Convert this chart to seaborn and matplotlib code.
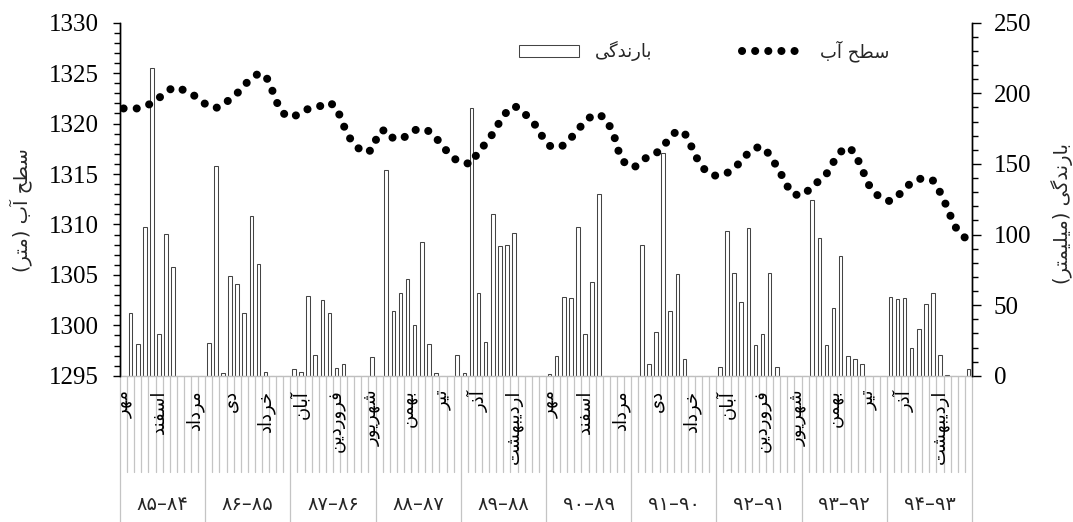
import re
import matplotlib
matplotlib.use("Agg")
import matplotlib.pyplot as plt
import matplotlib.transforms as mtransforms
from matplotlib.ticker import MultipleLocator, FixedLocator
import pandas as pd
import seaborn as sns

# ---------------------------------------------------------------- data
months = ["مهر", "آبان", "آذر", "دی", "بهمن", "اسفند",
          "فروردین", "اردیبهشت", "خرداد", "تیر", "مرداد", "شهریور"]

year_labels = ["۸۴–۸۵", "۸۵–۸۶", "۸۶–۸۷", "۸۷–۸۸", "۸۸–۸۹",
               "۸۹–۹۰", "۹۰–۹۱", "۹۱–۹۲", "۹۲–۹۳", "۹۳–۹۴"]

# monthly rainfall (mm), water years 84-85 .. 93-94, Mehr -> Shahrivar
rainfall = [
    0, 44.2, 22.3, 105.6, 217.7, 29.6, 100.6, 77.0, 0, 0, 0, 0,
    23.2, 148.8, 1.8, 70.9, 64.8, 44.2, 112.9, 79.2, 2.9, 0, 0, 0,
    4.8, 2.9, 56.3, 14.7, 53.7, 44.7, 5.3, 8.1, 0, 0, 0, 13.5,
    0, 145.7, 46.1, 58.4, 68.8, 36.0, 94.7, 22.5, 2.2, 0, 0, 14.9,
    2.2, 189.8, 58.4, 23.7, 114.3, 92.1, 92.6, 100.9, 0, 0, 0, 0,
    1.0, 13.8, 55.8, 54.9, 105.1, 29.8, 66.4, 128.7, 0, 0, 0, 0,
    0, 92.6, 8.1, 31.0, 158.0, 45.9, 71.9, 11.9, 0, 0, 0, 0,
    6.0, 102.5, 72.6, 52.5, 104.4, 21.6, 29.4, 72.6, 6.0, 0, 0, 0,
    0, 124.5, 97.8, 21.8, 48.2, 84.8, 14.2, 11.9, 8.1, 0, 0, 0,
    56.0, 54.4, 54.9, 19.9, 33.3, 50.8, 58.4, 14.5, 0.5, 0, 0, 5.0,
]

# monthly water level (m)
water_level = [
    1321.5, 1321.5, 1321.5, 1321.75, 1322.0, 1322.55, 1323.1, 1323.6, 1323.45, 1323.15, 1322.75, 1322.2,
    1321.7, 1321.55, 1321.8, 1322.45, 1323.0, 1323.8, 1324.5, 1324.95, 1324.8, 1323.2, 1321.4, 1320.7,
    1320.7, 1321.1, 1321.45, 1321.6, 1321.8, 1322.1, 1321.6, 1319.8, 1318.4, 1317.6, 1317.1, 1317.4,
    1319.2, 1319.4, 1318.5, 1318.5, 1318.8, 1319.35, 1319.5, 1319.25, 1318.6, 1317.7, 1316.9, 1316.3,
    1316.1, 1316.0, 1317.3, 1318.0, 1319.0, 1320.2, 1321.2, 1321.75, 1321.4, 1320.6, 1319.85, 1318.7,
    1317.8, 1317.6, 1317.85, 1318.55, 1319.4, 1320.2, 1320.8, 1320.9, 1320.4, 1319.0, 1316.6, 1315.8,
    1315.7, 1316.3, 1316.8, 1317.05, 1317.7, 1318.7, 1319.3, 1319.1, 1317.7, 1316.2, 1315.3, 1314.85,
    1314.85, 1315.1, 1315.55, 1316.3, 1317.1, 1317.6, 1317.7, 1316.9, 1315.75, 1314.5, 1313.1, 1312.9,
    1313.0, 1313.9, 1314.3, 1315.0, 1316.2, 1317.2, 1317.7, 1317.1, 1315.5, 1313.9, 1313.0, 1312.5,
    1312.3, 1312.8, 1313.5, 1314.2, 1314.5, 1314.6, 1314.35, 1313.2, 1311.7, 1309.9, 1309.0, 1308.4,
]

level_title = "سطح آب (متر)"
rain_title = "بارندگی (میلیمتر)"
rain_legend = "بارندگی"
level_legend = "سطح آب"

# ---------------------------------------------------- persian text helpers
# contextual forms: isolated, final, initial, medial
FORMS = {
    "ا": ("\uFE8D", "\uFE8E", None, None),
    "آ": ("\uFE81", "\uFE82", None, None),
    "ب": ("\uFE8F", "\uFE90", "\uFE91", "\uFE92"),
    "ت": ("\uFE95", "\uFE96", "\uFE97", "\uFE98"),
    "ح": ("\uFEA1", "\uFEA2", "\uFEA3", "\uFEA4"),
    "خ": ("\uFEA5", "\uFEA6", "\uFEA7", "\uFEA8"),
    "د": ("\uFEA9", "\uFEAA", None, None),
    "ذ": ("\uFEAB", "\uFEAC", None, None),
    "ر": ("\uFEAD", "\uFEAE", None, None),
    "ز": ("\uFEAF", "\uFEB0", None, None),
    "س": ("\uFEB1", "\uFEB2", "\uFEB3", "\uFEB4"),
    "ش": ("\uFEB5", "\uFEB6", "\uFEB7", "\uFEB8"),
    "ط": ("\uFEC1", "\uFEC2", "\uFEC3", "\uFEC4"),
    "ف": ("\uFED1", "\uFED2", "\uFED3", "\uFED4"),
    "ل": ("\uFEDD", "\uFEDE", "\uFEDF", "\uFEE0"),
    "م": ("\uFEE1", "\uFEE2", "\uFEE3", "\uFEE4"),
    "ن": ("\uFEE5", "\uFEE6", "\uFEE7", "\uFEE8"),
    "ه": ("\uFEE9", "\uFEEA", "\uFEEB", "\uFEEC"),
    "و": ("\uFEED", "\uFEEE", None, None),
    "ی": ("\uFBFC", "\uFBFD", "\uFBFE", "\uFBFF"),
    "گ": ("\uFB92", "\uFB93", "\uFB94", "\uFB95"),
}
DIGITS = "0123456789۰۱۲۳۴۵۶۷۸۹"
MIRROR = {"(": ")", ")": "("}


def shape(text):
    out = []
    for k, ch in enumerate(text):
        if ch not in FORMS:
            out.append(ch)
            continue
        prev = text[k - 1] if k > 0 else ""
        nxt = text[k + 1] if k + 1 < len(text) else ""
        join_prev = prev in FORMS and FORMS[prev][2] is not None
        join_next = nxt in FORMS and FORMS[ch][2] is not None
        if join_prev and join_next:
            idx = 3
        elif join_prev:
            idx = 1
        elif join_next:
            idx = 2
        else:
            idx = 0
        out.append(FORMS[ch][idx])
    return "".join(out)


def visual(text):
    """Shape and reorder right-to-left text for left-to-right drawing."""
    runs = re.findall(f"[{DIGITS}]+|[^{DIGITS}]+", shape(text))
    parts = []
    for run in reversed(runs):
        if run[0] in DIGITS:
            parts.append(run)
        else:
            parts.append("".join(MIRROR.get(c, c) for c in reversed(run)))
    return "".join(parts)


# ---------------------------------------------------------------- figure
sns.set_style("white")
plt.rcParams["font.family"] = ["Liberation Serif", "DejaVu Sans"]
FA = ["DejaVu Sans"]

W, H = 1073, 522
fig = plt.figure(figsize=(W / 100, H / 100), dpi=100)
x0, x1, ytop, ybot = 120, 972, 22.7, 375.8
ax_rain = fig.add_axes([x0 / W, 1 - ybot / H, (x1 - x0) / W, (ybot - ytop) / H])
ax_lvl = ax_rain.twinx()

n = len(rainfall)
df = pd.DataFrame({"month": range(n), "rain": rainfall, "level": water_level})

sns.barplot(data=df, x="month", y="rain", ax=ax_rain, color="white",
            edgecolor="#444444", linewidth=0.75, width=0.5, errorbar=None,
            saturation=1)
sns.lineplot(data=df, x="month", y="level", ax=ax_lvl, color="black",
             linewidth=5.8)
level_line = ax_lvl.lines[0]
level_line.set_linestyle((0, (0.01, 1.62)))
level_line.set_dash_capstyle("round")

# ---------------------------------------------------------------- axes
ax_rain.set_xlim(-0.5, n - 0.5)
ax_rain.set_ylim(0, 250)
ax_lvl.set_ylim(1295, 1330)

ax_rain.yaxis.tick_right()
ax_rain.yaxis.set_major_locator(MultipleLocator(50))
ax_rain.yaxis.set_minor_locator(MultipleLocator(10))
ax_rain.tick_params(axis="y", which="both", direction="out", colors="black",
                    left=False, labelleft=False, right=True, labelright=True,
                    labelsize=18, labelfontfamily="Liberation Serif", pad=9)
ax_rain.tick_params(axis="y", which="major", length=6.5, width=1)
ax_rain.tick_params(axis="y", which="minor", length=4.5, width=1)

ax_lvl.yaxis.tick_left()
ax_lvl.yaxis.set_major_locator(MultipleLocator(5))
ax_lvl.yaxis.set_minor_locator(MultipleLocator(1))
ax_lvl.tick_params(axis="y", which="both", direction="out", colors="black",
                   right=False, labelright=False, left=True, labelleft=True,
                   labelsize=18, labelfontfamily="Liberation Serif", pad=10)
ax_lvl.tick_params(axis="y", which="major", length=5, width=1)
ax_lvl.tick_params(axis="y", which="minor", length=4, width=1)
ax_lvl.set_ylabel("")
ax_rain.set_ylabel("")
ax_rain.set_xlabel("")
ax_lvl.set_xlabel("")

for a in (ax_rain, ax_lvl):
    a.spines["top"].set_visible(False)
    for s in ("left", "right"):
        a.spines[s].set_color("black")
        a.spines[s].set_linewidth(1)
    a.grid(False)
ax_lvl.spines["bottom"].set_visible(False)
ax_rain.spines["bottom"].set_color("#bfbfbf")
ax_rain.spines["bottom"].set_linewidth(1)

# month labels every fifth month
label_pos = list(range(0, n, 5))
ax_rain.xaxis.set_major_locator(FixedLocator(label_pos))
ax_rain.set_xticklabels([visual(months[i % 12]) for i in label_pos],
                        rotation=90, fontfamily=FA, fontsize=13)
ax_rain.tick_params(axis="x", which="major", length=0, pad=10, colors="black")

# category separators and water-year groups below the axis
sep_tr = mtransforms.blended_transform_factory(ax_rain.transData, ax_rain.transAxes)
short_end = -(472 - ybot) / (ybot - ytop)
long_end = -(H + 5 - ybot) / (ybot - ytop)
for k in range(n + 1):
    end = long_end if k % 12 == 0 else short_end
    ax_rain.plot([k - 0.5, k - 0.5], [0, end], transform=sep_tr,
                 color="#c4c4c4", lw=0.9, clip_on=False, zorder=0.5)

year_y = -(504 - ybot) / (ybot - ytop)
for j, lab in enumerate(year_labels):
    ax_rain.text(12 * j + 5.5, year_y, visual(lab), transform=sep_tr,
                 ha="center", va="center", fontfamily=FA, fontsize=14)

# axis titles
fig.text(21 / W, 1 - 210 / H, visual(level_title), rotation=90,
         ha="center", va="center", fontfamily=FA, fontsize=14)
fig.text(1062 / W, 1 - 213 / H, visual(rain_title), rotation=90,
         ha="center", va="center", fontfamily=FA, fontsize=14)

# legend entries
bar_patch = ax_rain.containers[0].patches[1]
leg1 = fig.legend([bar_patch], [visual(rain_legend)], loc="center left",
                  bbox_to_anchor=(519 / W, 1 - 51 / H), frameon=False,
                  borderpad=0, borderaxespad=0, handlelength=3.3,
                  handleheight=0.62, handletextpad=0.9,
                  prop={"family": FA, "size": 13})
leg2 = fig.legend([level_line], [visual(level_legend)], loc="center left",
                  bbox_to_anchor=(742 / W, 1 - 51 / H), frameon=False,
                  borderpad=0, borderaxespad=0, handlelength=3.2,
                  handletextpad=1.1, prop={"family": FA, "size": 13})

fig.savefig("out.png", dpi=100)
